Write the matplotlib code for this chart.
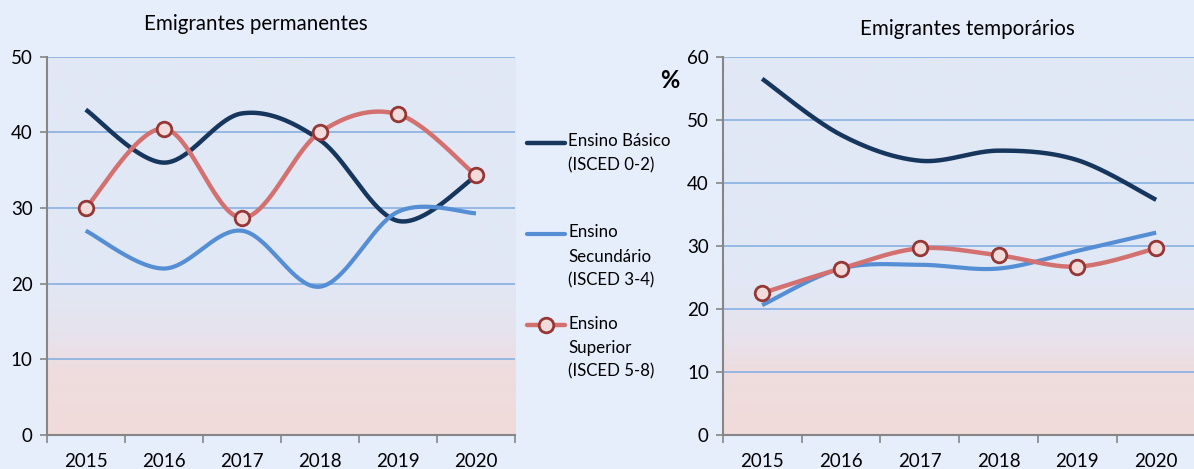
import numpy as np
import matplotlib
matplotlib.use("Agg")
import matplotlib.pyplot as plt
from matplotlib.colors import LinearSegmentedColormap
from matplotlib.lines import Line2D

plt.rcParams['font.family'] = ['Lato', 'DejaVu Sans']

years = ['2015', '2016', '2017', '2018', '2019', '2020']
perm_basico = [43.0, 36.0, 42.5, 39.0, 28.3, 34.2]
perm_secundario = [27.0, 22.0, 27.0, 19.6, 29.5, 29.3]
perm_superior = [30.0, 40.5, 28.7, 40.0, 42.4, 34.3]
temp_basico = [56.5, 47.6, 43.5, 45.1, 43.6, 37.3]
temp_secundario = [20.6, 26.4, 27.0, 26.4, 29.2, 32.1]
temp_superior = [22.5, 26.4, 29.6, 28.5, 26.7, 29.6]
labels = ['Ensino Básico\n(ISCED 0-2)', 'Ensino\nSecundário\n(ISCED 3-4)', 'Ensino\nSuperior\n(ISCED 5-8)']
titles = ['Emigrantes permanentes', 'Emigrantes temporários']

C_BAS = '#17365D'
C_SEC = '#558ED5'
C_SUP = '#D37170'
C_SUP_EDGE = '#953735'
C_SUP_FACE = '#F2DCDB'
FIG_BG = '#E6EEFC'


def smooth(y, n=40):
    """Excel-like smoothed curve (Catmull-Rom Bezier) through the data points."""
    y = np.asarray(y, float)
    x = np.arange(len(y), dtype=float)
    P = np.column_stack([x, y])
    Pe = np.vstack([P[0], P, P[-1]])
    xs, ys = [], []
    t = np.linspace(0, 1, n)
    for i in range(len(P) - 1):
        p0, p1, p2, p3 = Pe[i], Pe[i + 1], Pe[i + 2], Pe[i + 3]
        c1 = p1 + (p2 - p0) / 6.0
        c2 = p2 - (p3 - p1) / 6.0
        b = ((1 - t) ** 3)[:, None] * p1 + (3 * (1 - t) ** 2 * t)[:, None] * c1 \
            + (3 * (1 - t) * t ** 2)[:, None] * c2 + (t ** 3)[:, None] * p2
        xs.append(b[:, 0]); ys.append(b[:, 1])
    return np.concatenate(xs), np.concatenate(ys)


grad_cmap = LinearSegmentedColormap.from_list(
    'bg', [(0.0, '#F1DBDA'), (0.17, '#EEDDDF'), (0.27, '#E6E3EE'), (0.42, '#E1E8F5'), (1.0, '#E1E8F5')])

fig = plt.figure(figsize=(11.94, 4.69), dpi=100, facecolor=FIG_BG)

axes_specs = [
    (0.0391, 0.0725, 0.3922, 0.8066, 50, perm_basico, perm_secundario, perm_superior),
    (0.6053, 0.0725, 0.3960, 0.8066, 60, temp_basico, temp_secundario, temp_superior),
]

for k, (l, b, w, h, ymax, yb, ys_, ysup) in enumerate(axes_specs):
    ax = fig.add_axes([l, b, w, h])
    ax.set_facecolor('none')
    ax.set_xlim(-0.5, len(years) - 0.5)
    ax.set_ylim(0, ymax)
    grad = np.linspace(0, 1, 256).reshape(-1, 1)
    ax.imshow(grad, cmap=grad_cmap, aspect='auto', origin='lower',
              extent=[-0.5, len(years) - 0.5, 0, ymax], zorder=0)
    ax.set_yticks(np.arange(0, ymax + 1, 10))
    for yv in np.arange(10, ymax + 1, 10):
        ax.axhline(yv, color='#8EB4E3', lw=1.3, zorder=1)
    ax.set_xticks(np.arange(len(years)))
    ax.set_xticklabels(years)
    ax.set_xticks(np.arange(len(years) + 1) - 0.5, minor=True)
    ax.tick_params(axis='x', which='major', length=0, pad=13, labelsize=13.5, colors='black')
    ax.tick_params(axis='x', which='minor', length=6, width=1.2, color='#868686', direction='out')
    ax.tick_params(axis='y', length=5, width=1.2, color='#868686', labelsize=13.5, pad=5)
    for s in ['top', 'right']:
        ax.spines[s].set_visible(False)
    for s in ['left', 'bottom']:
        ax.spines[s].set_color('#868686')
        ax.spines[s].set_linewidth(1.5)
    x = np.arange(len(years))
    sx, sy = smooth(yb)
    ax.plot(sx, sy, color=C_BAS, lw=3.2, solid_capstyle='butt', zorder=3)
    sx, sy = smooth(ys_)
    ax.plot(sx, sy, color=C_SEC, lw=3.0, solid_capstyle='butt', zorder=3)
    sx, sy = smooth(ysup)
    ax.plot(sx, sy, color=C_SUP, lw=3.2, solid_capstyle='butt', zorder=4)
    ax.plot(x, ysup, linestyle='none', marker='o', ms=10.5, mfc=C_SUP_FACE,
            mec=C_SUP_EDGE, mew=2.0, zorder=5)
    ax.set_clip_on(False)

fig.text(256 / 1194, 1 - 24 / 469, titles[0], ha='center', va='center', fontsize=14.8)
fig.text(967 / 1194, 1 - 29 / 469, titles[1], ha='center', va='center', fontsize=14.8)
fig.text(670 / 1194, 1 - 81 / 469, '%', ha='center', va='center', fontsize=17, fontweight='bold')

# legend
leg_items = [
    (143, dict(color=C_BAS, lw=3.2), labels[0]),
    (234, dict(color=C_SEC, lw=3.0), labels[1]),
    (325, dict(color=C_SUP, lw=3.2), labels[2]),
]
for ypix, style, lab in leg_items:
    yf = 1 - ypix / 469
    fig.add_artist(Line2D([527 / 1194, 565 / 1194], [yf, yf], transform=fig.transFigure,
                          solid_capstyle='round', **style))
    fig.text(568 / 1194, yf + 9.5 / 469, lab, ha='left', va='top', fontsize=12.2,
             linespacing=1.62)
fig.add_artist(Line2D([546 / 1194], [1 - 325 / 469], transform=fig.transFigure,
                      marker='o', ms=10.5, mfc=C_SUP_FACE, mec=C_SUP_EDGE, mew=2.0,
                      linestyle='none'))

fig.savefig('out.png', dpi=100, facecolor=FIG_BG)
